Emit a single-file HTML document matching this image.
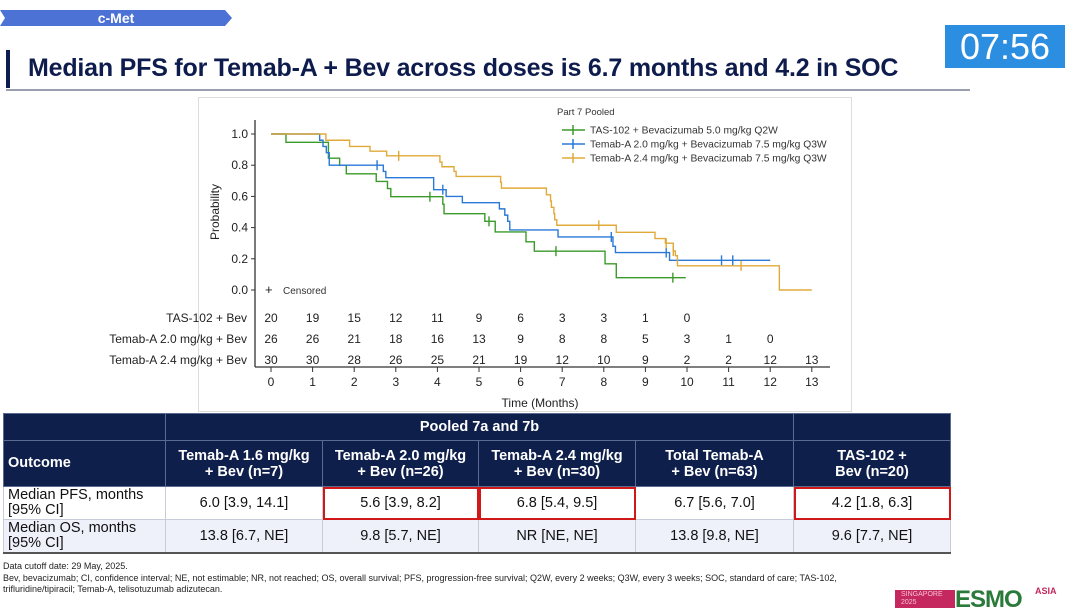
<!DOCTYPE html>
<html><head><meta charset="utf-8">
<style>
body{margin:0;width:1080px;height:611px;background:#fff;font-family:"Liberation Sans",Arial,sans-serif;position:relative;overflow:hidden}
.abs{position:absolute}
table{border-collapse:collapse;position:absolute;left:3px;top:413px;width:947px;table-layout:fixed}
td,th{font-size:14.5px;text-align:center;padding:0;border:1px solid #c8ccd8}
th{background:#0f1f4b;color:#fff;font-weight:bold;border-color:#5a6a90}
td{color:#111}
.lab{text-align:left;padding-left:4px;line-height:15px}
</style></head><body>
<div class="abs" style="left:0;top:10px;width:232px;height:16px;background:#4d72d6;clip-path:polygon(0 0,225px 0,232px 8px,225px 16px,0 16px,5px 8px);color:#fff;font-weight:bold;font-size:14px;text-align:center;line-height:16px">c-Met</div>
<div class="abs" style="left:945px;top:25px;width:120px;height:43px;background:#2b8ee0;color:#fff;font-size:36px;text-align:center;line-height:43px">07:56</div>
<div class="abs" style="left:6px;top:50px;width:4px;height:38px;background:#0e1b4d"></div>
<div class="abs" style="left:28px;top:54px;font-size:25px;font-weight:bold;color:#0e1b4d;letter-spacing:-0.2px">Median PFS for Temab-A + Bev across doses is 6.7 months and 4.2 in SOC</div>
<div class="abs" style="left:6px;top:89px;width:964px;height:2px;background:#9aa0b0"></div>
<div class="abs" style="left:198px;top:97px;width:652px;height:313px;border:1px solid #ddd"></div>
<svg class="abs" style="left:0;top:0" width="1080" height="611" id="chart" font-family="Liberation Sans, Arial, sans-serif"></svg>

<table>
<colgroup><col style="width:162px"><col style="width:157px"><col style="width:156px"><col style="width:157px"><col style="width:158px"><col style="width:157px"></colgroup>
<tr style="height:27px"><th></th><th colspan="4">Pooled 7a and 7b</th><th></th></tr>
<tr style="height:46px"><th class="lab">Outcome</th><th>Temab-A 1.6 mg/kg<br>+ Bev (n=7)</th><th>Temab-A 2.0 mg/kg<br>+ Bev (n=26)</th><th>Temab-A 2.4 mg/kg<br>+ Bev (n=30)</th><th>Total Temab-A<br>+ Bev (n=63)</th><th>TAS-102 +<br>Bev (n=20)</th></tr>
<tr style="height:33px;background:#fff"><td class="lab">Median PFS, months<br>[95% CI]</td><td>6.0 [3.9, 14.1]</td><td style="outline:2px solid #d01818;outline-offset:-2px">5.6 [3.9, 8.2]</td><td style="outline:2px solid #d01818;outline-offset:-2px">6.8 [5.4, 9.5]</td><td>6.7 [5.6, 7.0]</td><td style="outline:2px solid #d01818;outline-offset:-2px">4.2 [1.8, 6.3]</td></tr>
<tr style="height:33px;background:#eef0fa;border-bottom:2px solid #555"><td class="lab">Median OS, months<br>[95% CI]</td><td>13.8 [6.7, NE]</td><td>9.8 [5.7, NE]</td><td>NR [NE, NE]</td><td>13.8 [9.8, NE]</td><td>9.6 [7.7, NE]</td></tr>
</table>
<div class="abs" style="left:3px;top:561px;font-size:9px;color:#222;line-height:11.5px;width:900px">Data cutoff date: 29 May, 2025.<br>Bev, bevacizumab; CI, confidence interval; NE, not estimable; NR, not reached; OS, overall survival; PFS, progression-free survival; Q2W, every 2 weeks; Q3W, every 3 weeks; SOC, standard of care; TAS-102,<br>trifluridine/tipiracil; Temab-A, telisotuzumab adizutecan.</div>
<div class="abs" style="left:895px;top:590px;width:60px;height:18px;background:#c4285e;color:#f5c0d0;font-size:7px;line-height:8px;padding-left:6px;box-sizing:border-box;padding-top:1px">SINGAPORE<br>2025</div>
<div class="abs" style="left:955px;top:586px;font-size:24px;font-weight:bold;color:#2a7a3a;letter-spacing:-1px">ESMO</div>
<div class="abs" style="left:1035px;top:586px;font-size:9px;font-weight:bold;color:#c4285e">ASIA</div>

<script>
const ticksX=[0,1,2,3,4,5,6,7,8,9,10,11,12,13];
const ticksY=[0,0.2,0.4,0.6,0.8,1.0];
const greenT=[0,0.36,1.38,1.65,1.81,2.53,2.8,2.88,4.13,4.16,5.14,5.39,6.13,6.33,8.03,8.3];
const greenS=[1,0.947,0.845,0.80,0.745,0.696,0.65,0.598,0.55,0.489,0.44,0.372,0.309,0.249,0.168,0.079];
const greenEnd=9.97;
const greenC=[3.82,5.24,6.85,9.66];
const blueT=[0,1.17,1.25,1.33,1.4,2.7,2.76,3.91,4.21,4.6,5.49,5.62,5.69,5.74,6.9,8.22,8.28,9.58];
const blueS=[1,0.96,0.92,0.88,0.80,0.76,0.72,0.643,0.60,0.56,0.52,0.48,0.44,0.385,0.34,0.28,0.24,0.19];
const blueEnd=12.0;
const blueC=[2.55,4.13,8.18,9.5,10.83,11.1];
const yellowT=[0,1.32,1.89,2.38,2.78,4.06,4.11,4.4,4.45,5.52,5.54,6.62,6.72,6.74,6.8,6.82,6.87,8.3,9.23,9.48,9.67,9.72,9.77,12.22];
const yellowS=[1,0.96,0.92,0.89,0.86,0.82,0.79,0.76,0.728,0.69,0.653,0.61,0.57,0.53,0.49,0.45,0.415,0.37,0.33,0.30,0.25,0.22,0.155,0];
const yellowEnd=13.0;
const yellowC=[3.07,7.88,9.5,9.67,11.3];
const riskLabels=["TAS-102 + Bev","Temab-A 2.0 mg/kg + Bev","Temab-A 2.4 mg/kg + Bev"];
const riskTAS=[20,19,15,12,11,9,6,3,3,1,0];
const riskT20=[26,26,21,18,16,13,9,8,8,5,3,1,0];
const riskT24=[30,30,28,26,25,21,19,12,10,9,2,2,12,13];

const svg=document.getElementById('chart');
const NS='http://www.w3.org/2000/svg';
const X=t=>271+t*41.6, Y=p=>290-p*156;
function mk(tag,at,txt){const e=document.createElementNS(NS,tag);for(const k in at)e.setAttribute(k,at[k]);if(txt!==undefined)e.textContent=txt;svg.appendChild(e);return e;}
let e;
e=mk('line',{x1:255,y1:120,x2:255,y2:367,stroke:'#333','stroke-width':1.3});


e=mk('line',{x1:255,y1:367,x2:830,y2:367,stroke:'#333','stroke-width':1.3});


ticksY.forEach(v=>{
 mk('line',{x1:251,y1:Y(v),x2:255,y2:Y(v),stroke:'#333'});
 e=mk('text',{x:248,y:Y(v)+4,'font-size':12,'text-anchor':'end',fill:'#222'},v.toFixed(1));
 
 
});
ticksX.forEach(v=>{
 mk('line',{x1:X(v),y1:367,x2:X(v),y2:372,stroke:'#333'});
 e=mk('text',{x:X(v),y:386,'font-size':12,'text-anchor':'middle',fill:'#222'},v);
 
 
});
e=mk('text',{x:540,y:407,'font-size':12,'text-anchor':'middle',fill:'#222'},'Time (Months)');


e=mk('text',{x:0,y:0,'font-size':12,'text-anchor':'middle',fill:'#222',transform:'translate(219,212) rotate(-90)'},'Probability');


function surv(T,S,t){let s=1;for(let i=0;i<T.length;i++)if(T[i]<=t)s=S[i];return s;}
function curve(T,S,end,C,col,name){
 let d='M'+X(T[0])+','+Y(S[0]);
 for(let i=1;i<T.length;i++){d+='H'+X(T[i])+'V'+Y(S[i]);}
 d+='H'+X(end);
 let p=mk('path',{d:d,fill:'none',stroke:col,'stroke-width':1.4});
 
 
 C.forEach(c=>{const y=Y(surv(T,S,c));
  let m=mk('path',{d:`M${X(c)},${y-5}V${y+5}`,stroke:col,'stroke-width':1.4});
  
  });
}
curve(greenT,greenS,greenEnd,greenC,'#3a9a2a','tas102-curve');
curve(blueT,blueS,blueEnd,blueC,'#2a78d8','temab-2-0-curve');
curve(yellowT,yellowS,yellowEnd,yellowC,'#e0aa3a','temab-2-4-curve');
e=mk('text',{x:557,y:115,'font-size':9.5,fill:'#333'},'Part 7 Pooled');


[['#3a9a2a','TAS-102 + Bevacizumab 5.0 mg/kg Q2W'],['#2a78d8','Temab-A 2.0 mg/kg + Bevacizumab 7.5 mg/kg Q3W'],['#e0aa3a','Temab-A 2.4 mg/kg + Bevacizumab 7.5 mg/kg Q3W']].forEach((l,i)=>{
 const y=130+i*14;
 mk('line',{x1:562,y1:y,x2:585,y2:y,stroke:l[0],'stroke-width':1.5});
 mk('line',{x1:573,y1:y-5,x2:573,y2:y+5,stroke:l[0],'stroke-width':1.5});
 e=mk('text',{x:590,y:y+3.5,'font-size':10.3,fill:'#333'},l[1]);
 
 
});
e=mk('text',{x:265,y:294,'font-size':13,fill:'#222'},'+');


mk('text',{x:283,y:294,'font-size':10,fill:'#333'},'Censored');
[riskTAS,riskT20,riskT24].forEach((arr,r)=>{
 const y=322+r*21;
 e=mk('text',{x:247,y:y,'font-size':12,'text-anchor':'end',fill:'#222'},riskLabels[r]);
 
 
 arr.forEach((n,i)=>{e=mk('text',{x:X(i),y:y,'font-size':12,'text-anchor':'middle',fill:'#222'},n);
  
  });
});
</script>
</body></html>
